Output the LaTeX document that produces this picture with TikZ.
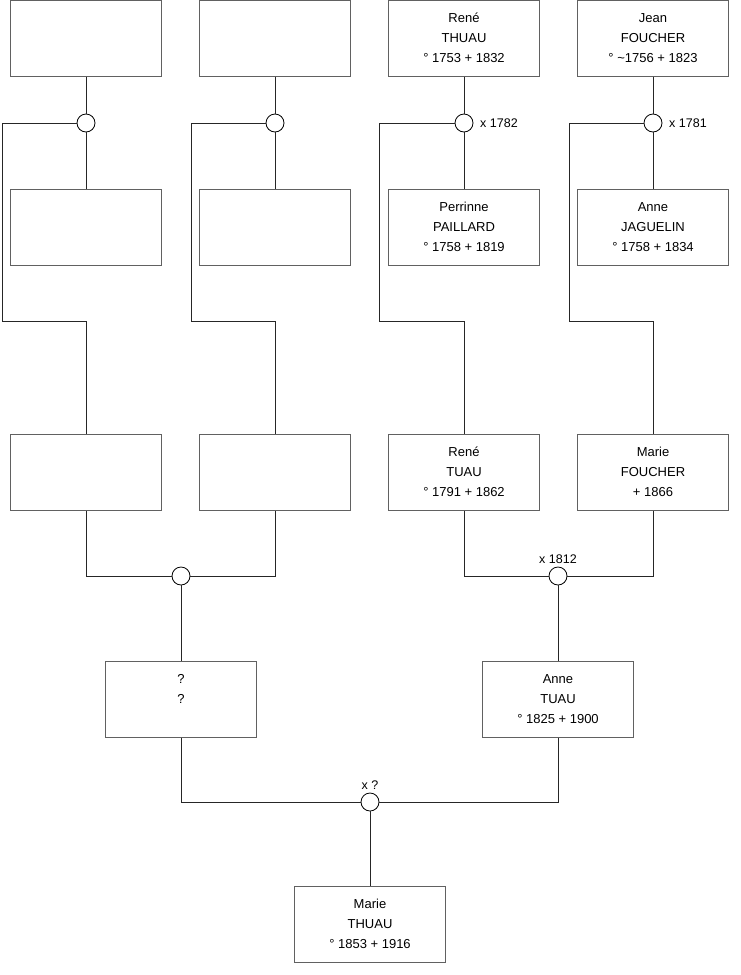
\documentclass[tikz,border=0pt]{standalone}
\usepackage{fontspec}
\setmainfont{Liberation Sans}
\newcommand{\ptext}[3]{\raisebox{2.5pt}{\begin{tabular}{@{}c@{}}#1\\#2\\#3\end{tabular}}}
\begin{document}
\begin{tikzpicture}[x=1pt,y=-1pt,
  person/.style={draw=black!62, line width=1pt, fill=white, minimum width=151pt, minimum height=76pt,
    inner sep=0pt, align=center, font=\fontsize{13}{20}\selectfont},
  union/.style={circle, draw=black, line width=0.8pt, fill=white, minimum size=18pt, inner sep=0pt},
  lbl/.style={font=\fontsize{12.5}{14}\selectfont, inner sep=0pt},
  link/.style={draw=black!85, line width=1pt}]
\useasboundingbox (0,0) rectangle (740,975);
% row 1
\node[person] (a1) at (86,38) {};
\node[person] (b1) at (275,38) {};
\node[person] (c1) at (464,38) {\ptext{René}{THUAU}{° 1753 + 1832}};
\node[person] (d1) at (653,38) {\ptext{Jean}{FOUCHER}{° \textasciitilde1756 + 1823}};
% unions row 1
\node[union] (ua) at (86,123) {};
\node[union] (ub) at (275,123) {};
\node[union] (uc) at (464,123) {};
\node[union] (ud) at (653,123) {};
\node[lbl, anchor=west] (lc) at (480,123) {x 1782};
\node[lbl, anchor=west] (ld) at (669,123) {x 1781};
% row 2
\node[person] (a2) at (86,227) {};
\node[person] (b2) at (275,227) {};
\node[person] (c2) at (464,227) {\ptext{Perrinne}{PAILLARD}{° 1758 + 1819}};
\node[person] (d2) at (653,227) {\ptext{Anne}{JAGUELIN}{° 1758 + 1834}};
% row 3
\node[person] (a3) at (86,472.5) {};
\node[person] (b3) at (275,472.5) {};
\node[person] (c3) at (464,472.5) {\ptext{René}{TUAU}{° 1791 + 1862}};
\node[person] (d3) at (653,472.5) {\ptext{Marie}{FOUCHER}{+ 1866}};
% unions row 3
\node[union] (ue) at (181,576) {};
\node[union] (uf) at (558,576) {};
\node[lbl, anchor=south] (lf) at (558,564) {x 1812};
% row 4
\node[person] (e4) at (181,699) {\ptext{?}{?}{~}};
\node[person] (f4) at (558,699) {\ptext{Anne}{TUAU}{° 1825 + 1900}};
% final union
\node[union] (ug) at (370,802) {};
\node[lbl, anchor=south] (lg) at (370,790) {x ?};
% row 5
\node[person] (g5) at (370,924.5) {\ptext{Marie}{THUAU}{° 1853 + 1916}};
% corner coordinates
\coordinate (ka) at (2,321);
\coordinate (kb) at (191,321);
\coordinate (kc) at (379,321);
\coordinate (kd) at (569,321);
% connectors
\foreach \p/\u/\c/\k/\t in {a1/ua/a2/ka/a3, b1/ub/b2/kb/b3, c1/uc/c2/kc/c3, d1/ud/d2/kd/d3}{
  \draw[link] (\p.south) -- (\u.north);
  \draw[link] (\u.south) -- (\c.north);
  \draw[link] (\u.west) -| (\k) -| (\t.north);
}
\draw[link] (a3.south) |- (ue.west);
\draw[link] (b3.south) |- (ue.east);
\draw[link] (ue.south) -- (e4.north);
\draw[link] (c3.south) |- (uf.west);
\draw[link] (d3.south) |- (uf.east);
\draw[link] (uf.south) -- (f4.north);
\draw[link] (e4.south) |- (ug.west);
\draw[link] (f4.south) |- (ug.east);
\draw[link] (ug.south) -- (g5.north);
\end{tikzpicture}
\end{document}
